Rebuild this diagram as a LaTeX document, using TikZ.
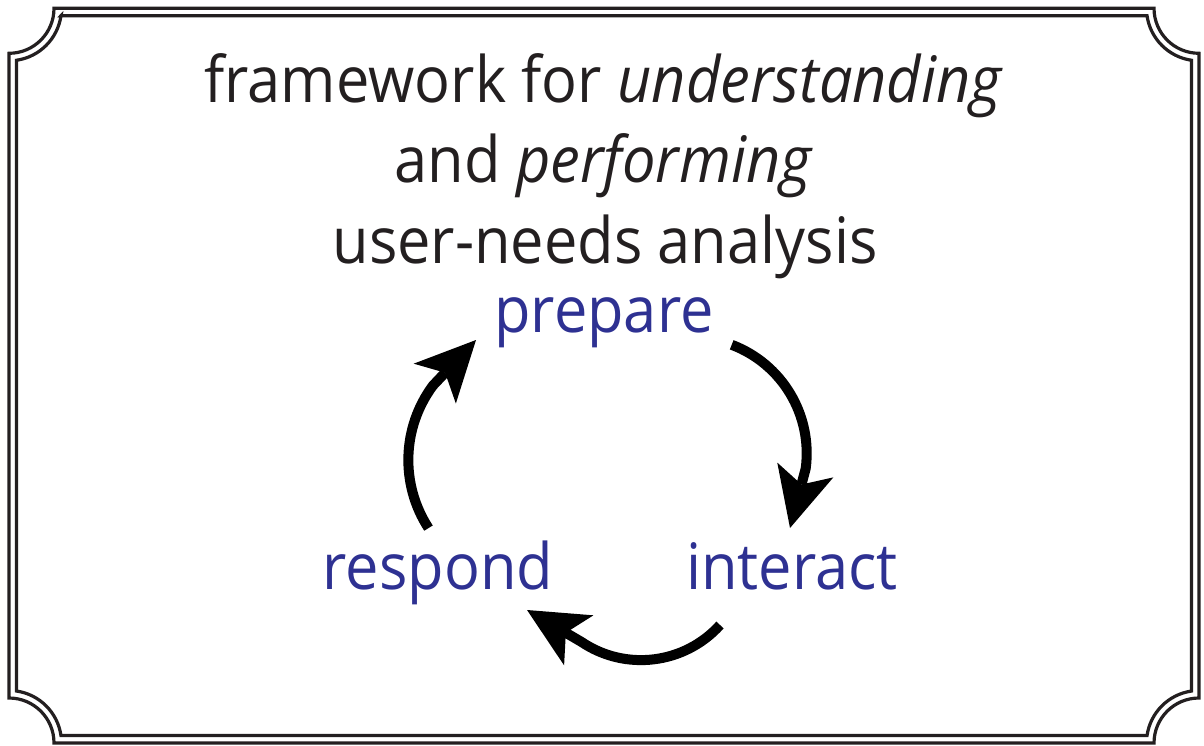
\documentclass[tikz,border=0pt]{standalone}
\usepackage{fontspec}
\setmainfont[FakeStretch=0.93]{Open Sans}
\usetikzlibrary{arrows.meta}
\definecolor{inkblack}{RGB}{35,31,32}
\definecolor{stageblue}{RGB}{46,49,146}
\begin{document}
\begin{tikzpicture}[x=1pt,y=1pt,
  titletext/.style={anchor=base, inner sep=0pt, text=inkblack,
    font=\fontsize{64}{76}\selectfont},
  stagetext/.style={anchor=base, inner sep=0pt, text=stageblue,
    font=\fontsize{64}{76}\selectfont},
  framerule/.style={draw=inkblack, line width=3.2pt},
  cyclearrow/.style={draw=black, line width=10pt,
    -{Stealth[length=60pt,width=58pt,inset=15pt,line width=0pt]}}
]
\useasboundingbox (0,0) rectangle (1204,-746);

% double frame with concave (scooped) corners
\draw[framerule] (54,-8.3) -- (1154,-8.3)
  arc[start angle=180,end angle=270,radius=45] -- (1199,-698)
  arc[start angle=90,end angle=180,radius=45] -- (54,-743)
  arc[start angle=0,end angle=90,radius=45] -- (9,-53.3)
  arc[start angle=-90,end angle=0,radius=45] -- cycle;
\draw[framerule] (60.96,-15.8) -- (1147.04,-15.8)
  arc[start angle=188.21,end angle=261.79,radius=52.5] -- (1191.5,-691.04)
  arc[start angle=98.21,end angle=171.79,radius=52.5] -- (60.96,-735.5)
  arc[start angle=8.21,end angle=81.79,radius=52.5] -- (16.5,-60.26)
  arc[start angle=-81.79,end angle=-8.21,radius=52.5] -- cycle;

% heading
\node[titletext] (title1) at (604,-103) {framework for \textit{understanding}};
\node[titletext] (title2) at (604,-183) {and \textit{performing}};
\node[titletext] (title3) at (605,-263) {user-needs analysis};

% the three stages
\node[stagetext] (prepare)  at (604,-332) {prepare};
\node[stagetext] (interact) at (792,-589) {interact};
\node[stagetext] (respond)  at (438,-589) {respond};

% curved arrows of the cycle
\coordinate (a1s) at (731.7,-344.8);
\coordinate (a1t) at (790,-528);
\coordinate (a2s) at (720,-625);
\coordinate (a2t) at (527,-610);
\coordinate (a3s) at (428.5,-528.1);
\coordinate (a3t) at (476,-340);
\draw[cyclearrow] (a1s) arc[start angle=69.3,end angle=-7.5,radius=116] -- (a1t);
\draw[cyclearrow] (a2s) arc[start angle=-42.1,end angle=-124,radius=106.5] -- (a2t);
\draw[cyclearrow] (a3s) arc[start angle=213,end angle=143.4,radius=125] -- (a3t);
\end{tikzpicture}
\end{document}
